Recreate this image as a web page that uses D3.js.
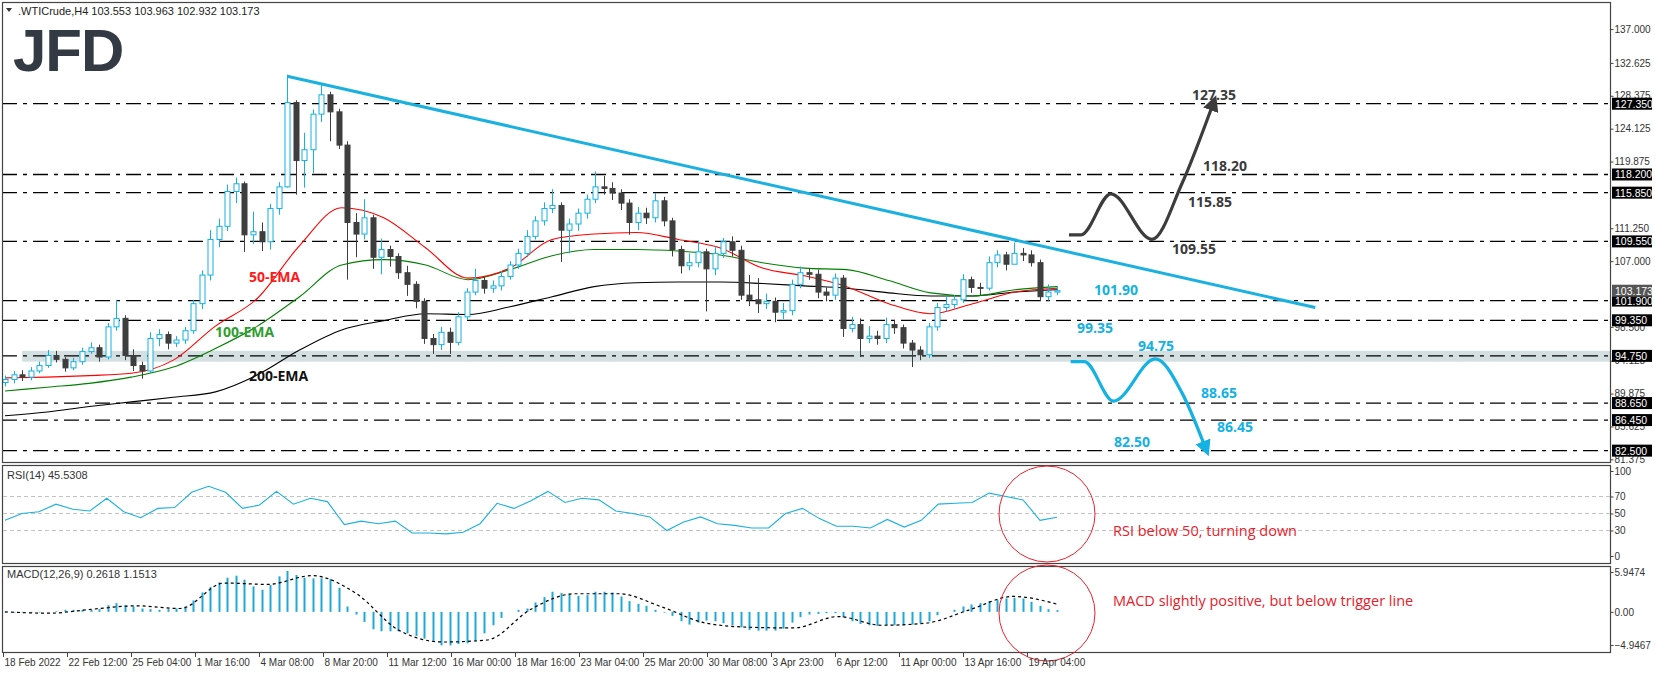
<!DOCTYPE html>
<html><head><meta charset="utf-8">
<script src="https://cdn.jsdelivr.net/npm/d3@7"></script>
<style>body{margin:0;background:#fff}svg{display:block}</style>
</head><body>
<svg id="c" width="1655" height="673"></svg>
<script>
// ---------- DATA ----------
const closes=[91.7,92.3,92.0,92.8,93.5,94.8,94.3,93.2,94.0,95.3,95.8,94.6,98.5,99.6,94.8,93.5,92.8,97.0,97.5,96.4,96.8,98.0,101.5,105.2,109.8,111.5,116.0,117.0,110.4,110.8,109.5,113.8,116.6,127.5,120.0,121.4,126.0,128.5,126.3,122.0,112.0,110.5,112.6,107.5,108.5,107.6,105.5,104.0,101.8,97.0,96.2,97.8,96.5,99.8,103.0,104.5,103.5,103.8,105.0,106.5,108.0,110.2,112.2,113.8,114.2,111.0,111.8,113.2,115.0,116.6,116.4,115.8,114.5,112.0,113.2,112.6,114.8,112.2,108.5,106.4,106.8,108.2,106.0,108.0,109.5,108.4,102.6,102.0,101.5,101.8,100.4,100.6,104.0,105.5,105.3,103.0,102.6,104.8,98.3,98.8,97.0,97.3,97.0,98.8,98.4,96.4,95.5,94.9,98.5,101.0,101.4,102.0,104.6,103.6,103.5,106.8,107.8,106.6,108.0,107.8,106.8,102.4,103.0,103.17];
const highs=[92.2,92.8,92.9,93.3,94.0,95.5,95.4,94.6,94.5,95.8,96.5,96.2,99.0,102.0,100.0,95.6,94.0,97.8,98.2,97.9,97.3,98.5,102.0,105.8,111.0,112.5,116.9,117.8,117.3,113.4,112.0,114.4,117.2,131.1,127.8,123.6,126.6,130.0,128.9,126.7,122.5,113.2,115.0,113.0,109.9,109.0,108.0,106.4,104.4,102.2,97.6,98.5,98.4,100.4,103.5,106.0,105.0,104.5,105.7,107.0,108.6,111.0,112.8,114.6,116.3,114.6,112.5,113.8,115.6,118.6,118.0,117.2,116.3,115.0,114.0,113.9,115.8,115.3,112.6,109.0,108.0,109.6,108.6,108.9,110.0,110.2,109.0,105.2,104.8,102.8,102.3,101.6,104.6,106.3,106.0,105.9,103.6,105.4,105.2,99.8,99.6,98.6,98.0,99.7,99.4,98.8,96.8,96.0,99.0,101.6,102.5,102.6,105.3,105.0,104.2,107.6,108.4,108.2,109.4,108.7,108.4,107.2,104.0,103.8];
const lows=[90.8,91.2,91.5,91.6,92.5,93.2,93.9,92.7,92.9,93.6,95.0,94.0,94.3,98.0,94.2,92.8,91.8,92.5,96.0,95.6,95.9,96.3,97.6,100.8,104.5,108.8,110.9,114.5,108.2,109.2,108.3,108.5,113.0,116.5,115.6,116.5,118.4,125.0,122.5,121.5,104.6,107.5,109.8,106.0,105.3,106.3,104.7,102.5,100.9,96.3,95.0,95.5,95.0,96.1,99.4,102.6,102.8,102.9,103.2,104.6,106.0,107.5,109.8,111.6,113.2,106.9,108.0,110.9,112.5,114.5,115.6,114.9,113.6,110.4,111.0,111.8,112.0,111.5,107.6,105.4,105.8,106.2,100.5,105.2,107.4,107.6,102.0,101.2,100.3,100.8,99.1,99.5,100.0,103.5,104.6,102.2,101.8,102.0,97.2,97.8,94.6,96.4,96.2,96.4,97.6,95.7,93.3,94.2,94.5,98.0,100.5,100.9,101.6,102.9,102.6,103.2,106.2,105.8,106.6,107.0,106.3,101.8,101.9,102.6];
const firstOpen=91.3;
const ema50=[91.9,92.0,92.2,92.5,94.2,98.6,102.2,109.0,113.9,112.6,108.7,104.8,106.1,109.8,110.5,110.7,109.8,108.7,106.1,105.1,103.7,101.5,100.2,101.5,103.0,103.5];
const ema100=[90.2,90.7,91.2,92.0,93.3,95.7,98.6,102.4,106.5,107.2,106.5,104.6,105.9,107.7,108.5,108.5,108.3,107.8,106.8,106.1,105.9,104.5,102.9,102.5,103.3,103.7];
const ema200=[87.0,87.5,88.2,88.8,89.4,90.1,92.3,95.5,98.1,99.3,100.2,100.1,101.1,102.4,103.7,104.2,104.3,104.3,104.1,103.8,103.5,102.9,102.5,102.5,103.0,103.3];
const rsi=[42,50,52,61,55,53,68,52,45,56,57,75,82,75,56,60,76,61,68,64,37,41,38,41,27,27,26,28,38,62,56,65,76,63,68,66,53,50,46,30,40,46,38,36,33,33,50,56,44,35,35,33,43,34,42,61,62,63,74,70,66,42,45.5];
const macdHist=[-0.1,-0.1,-0.1,-0.1,-0.1,0.0,0.1,0.3,0.3,0.3,0.3,0.4,1.0,1.3,1.0,0.8,0.5,0.4,0.3,0.4,0.5,0.8,1.7,2.9,3.7,4.4,5.1,5.4,4.8,3.8,3.3,4.0,5.3,6.1,5.5,5.1,5.0,5.0,4.9,3.6,0.8,-0.4,-1.5,-2.6,-2.9,-2.9,-2.9,-3.2,-3.6,-4.0,-4.4,-5.0,-5.0,-4.8,-4.7,-4.3,-3.2,-2.0,-0.9,0.0,0.3,0.5,1.4,2.2,3.0,2.8,2.6,2.4,2.5,3.0,3.0,2.9,2.3,1.6,1.2,0.9,0.3,-0.1,-0.6,-1.4,-1.9,-1.6,-1.3,-1.4,-1.7,-2.0,-2.3,-2.7,-2.8,-2.8,-2.8,-2.5,-1.6,-0.8,-0.4,-0.3,-0.2,-0.2,-0.8,-1.4,-1.8,-2.0,-2.1,-2.0,-2.0,-2.0,-1.9,-1.7,-1.4,-0.5,0.0,0.3,0.8,1.1,1.3,1.6,1.8,2.0,2.1,2.0,1.5,0.9,0.4,0.26];
const macdSignal=[0.0,-0.2,0.4,0.9,0.5,4.3,4.1,5.4,2.8,-2.8,-4.5,-4.2,0.4,2.7,2.7,0.7,-1.7,-2.3,-2.4,-0.7,-2.0,-1.7,0.3,2.3,1.15];
const levels=[127.35,118.20,115.85,109.55,101.90,99.35,94.75,88.65,86.45,82.50];
const priceTicks=[137.000,132.625,128.375,124.125,119.875,111.250,107.000,98.500,94.125,89.875,85.625,81.375];
const rsiTicks=[100,70,50,30,0];
const rsiLevels=[70,50,30];
const macdTicks=[5.9474,0,-4.9467];
const dateLabels=["18 Feb 2022","22 Feb 12:00","25 Feb 04:00","1 Mar 16:00","4 Mar 08:00","8 Mar 20:00","11 Mar 12:00","16 Mar 00:00","18 Mar 16:00","23 Mar 04:00","25 Mar 20:00","30 Mar 08:00","3 Apr 23:00","6 Apr 12:00","11 Apr 00:00","13 Apr 16:00","19 Apr 04:00"];
const trendline=[[33,130.9],[153.2,101.0]];
const zone=[94.0,95.4];
const bullPath=[[124.4,110.4],[125.8,110.4],[129.3,115.7],[134.1,109.8],[137.6,117.0],[141.1,126.9]];
const bearPath=[[124.6,94.0],[126.2,94.0],[129.6,88.9],[134.5,94.36],[137.6,90.0],[140.2,83.3]];
const blackNotes=[["127.35",1192,100],["118.20",1203,171],["115.85",1188,207],["109.55",1172,254]];
const blueNotes=[["101.90",1094,295],["99.35",1077,333],["94.75",1138,351],["88.65",1201,398],["86.45",1217,432],["82.50",1114,447]];

// ---------- SCALES ----------
const svg=d3.select("#c");
const N=closes.length;
const x=d3.scaleLinear().domain([0,N-1]).range([5,1057]);
const y=d3.scaleLinear().domain([81.03,140.5]).range([462,2]);
const yR=d3.scaleLinear().domain([0,100]).range([556,471]);
const yM=d3.scaleLinear().domain([-4.9467,5.9474]).range([645,572]);
const L=2,R=1610;
const CY="#14b1e3", DK="#3e3e3e";
const axisFont="'Liberation Sans',Arial,sans-serif";

svg.append("rect").attr("x",x(2)).attr("width",R-x(2)).attr("y",y(zone[1])).attr("height",y(zone[0])-y(zone[1])).attr("fill","#d3dfe1");
svg.selectAll(".lv").data(levels).join("line").attr("x1",L).attr("x2",R).attr("y1",d=>y(d)).attr("y2",d=>y(d))
 .attr("stroke","#000").attr("stroke-width",1.3).attr("stroke-dasharray","15,6,4,6");

svg.append("text").attr("x",13).attr("y",71).attr("font-family","'Liberation Sans',Arial").attr("font-weight","bold").attr("font-size",60).attr("letter-spacing",-1).attr("fill","#333a44").text("JFD");
svg.append("path").attr("d","M6,8 L12,8 L9,12 Z").attr("fill","#333");
svg.append("text").attr("x",18).attr("y",15).attr("font-family",axisFont).attr("font-size",11).attr("fill","#222").text(".WTICrude,H4  103.553 103.963 102.932 103.173");

const ex=d3.scaleLinear().domain([0,ema50.length-1]).range([0,N-1]);
const emaLine=d3.line().x((d,i)=>x(ex(i))).y(d=>y(d)).curve(d3.curveMonotoneX);
[[ema200,"#000"],[ema100,"#008000"],[ema50,"#ff0000"]].forEach(([a,c])=>svg.append("path").attr("d",emaLine(a)).attr("fill","none").attr("stroke",c).attr("stroke-width",1.1));

const cd=closes.map((c,i)=>({o:i?closes[i-1]:firstOpen,c,h:highs[i],l:lows[i],i}));
const g=svg.append("g");
cd.forEach(d=>{
  const up=d.c>=d.o, col=up?CY:DK, cx=Math.round(x(d.i))+0.5;
  g.append("line").attr("x1",cx).attr("x2",cx).attr("y1",y(d.h)).attr("y2",y(d.l)).attr("stroke",col).attr("stroke-width",1);
  const t=y(Math.max(d.o,d.c)), b=y(Math.min(d.o,d.c));
  g.append("rect").attr("x",cx-2.5).attr("width",5).attr("y",t).attr("height",Math.max(1,b-t))
   .attr("fill",up?"#fff":DK).attr("stroke",col).attr("stroke-width",1);
});

svg.append("path").attr("d",d3.line().x(d=>x(d[0])).y(d=>y(d[1]))(trendline)).attr("stroke","#1ab0e0").attr("stroke-width",3).attr("fill","none");

const bf="'Open Sans',Arial,sans-serif";
[["50-EMA",249,282,"#ff1a1a"],["100-EMA",215,337,"#2f9e2f"],["200-EMA",249,381,"#111"]].forEach(([t,xx,yy,c])=>
 svg.append("text").attr("x",xx).attr("y",yy).attr("font-family",bf).attr("font-weight","bold").attr("font-size",14).attr("fill",c).text(t));

const defs=svg.append("defs");
[["ab","#3c3c3c"],["ac","#14b1e3"]].forEach(([id,c])=>defs.append("marker").attr("id",id).attr("viewBox","0 0 10 10").attr("refX",2).attr("refY",5)
 .attr("markerWidth",5).attr("markerHeight",5).attr("orient","auto").append("path").attr("d","M0,0 L10,5 L0,10 Z").attr("fill",c));
const pl=d3.line().x(d=>x(d[0])).y(d=>y(d[1])).curve(d3.curveMonotoneX);
svg.append("path").attr("d",pl(bullPath)).attr("fill","none").attr("stroke","#3c3c3c").attr("stroke-width",3.2).attr("marker-end","url(#ab)");
svg.append("path").attr("d",pl(bearPath)).attr("fill","none").attr("stroke","#14b1e3").attr("stroke-width",3.2).attr("marker-end","url(#ac)");
blackNotes.forEach(([t,xx,yy])=>svg.append("text").attr("x",xx).attr("y",yy).attr("font-family",bf).attr("font-weight","bold").attr("font-size",14).attr("fill","#3a3a3a").text(t));
blueNotes.forEach(([t,xx,yy])=>svg.append("text").attr("x",xx).attr("y",yy).attr("font-family",bf).attr("font-weight","bold").attr("font-size",14).attr("fill","#14b1e3").text(t));

[[2,462],[465,563],[566,652]].forEach(([t,b])=>svg.append("rect").attr("x",L+0.5).attr("y",t+0.5).attr("width",R-L).attr("height",b-t).attr("fill","none").attr("stroke","#444").attr("stroke-width",1.2));

function rAxis(scale,vals,fmt){
  const a=svg.append("g").attr("transform",`translate(${R+0.5},0)`).call(d3.axisRight(scale).tickValues(vals).tickFormat(fmt).tickSize(3));
  a.select(".domain").remove();
  a.selectAll("text").attr("font-family",axisFont).attr("font-size",10).attr("fill","#333").attr("x",4);
  a.selectAll("line").attr("stroke","#444");
}
rAxis(y,priceTicks,d3.format(".3f"));
rAxis(yR,rsiTicks,d3.format("d"));
rAxis(yM,macdTicks,d=>d===0?"0.00":d3.format(".4f")(d));

function box(v,txt,fill){
  svg.append("rect").attr("x",R+2).attr("y",y(v)-6).attr("width",40).attr("height",12).attr("fill",fill);
  svg.append("text").attr("x",R+5).attr("y",y(v)+4).attr("font-family",axisFont).attr("font-size",10.5).attr("fill","#fff").text(txt);
}
levels.forEach(v=>box(v,d3.format(".3f")(v),"#000"));
box(closes[N-1]+0.003,"103.173","#555");

svg.selectAll(".rl").data(rsiLevels).join("line").attr("x1",L+1).attr("x2",R).attr("y1",d=>yR(d)).attr("y2",d=>yR(d)).attr("stroke","#c3c3c3").attr("stroke-dasharray","4,3");
const rx=d3.scaleLinear().domain([0,rsi.length-1]).range([0,N-1]);
svg.append("path").attr("d",d3.line().x((d,i)=>x(rx(i))).y(d=>yR(d))(rsi)).attr("fill","none").attr("stroke","#1ab0e0").attr("stroke-width",1.1);
svg.append("text").attr("x",7).attr("y",479).attr("font-family",axisFont).attr("font-size",11).attr("fill","#333").text("RSI(14) 45.5308");

svg.selectAll(".mh").data(macdHist).join("line").attr("x1",(d,i)=>Math.round(x(i))+0.5).attr("x2",(d,i)=>Math.round(x(i))+0.5)
 .attr("y1",yM(0)).attr("y2",d=>yM(d)).attr("stroke","#1ea8d6").attr("stroke-width",2);
const sx=d3.scaleLinear().domain([0,macdSignal.length-1]).range([0,N-1]);
svg.append("path").attr("d",d3.line().x((d,i)=>x(sx(i))).y(d=>yM(d)).curve(d3.curveMonotoneX)(macdSignal)).attr("fill","none").attr("stroke","#000").attr("stroke-width",1.2).attr("stroke-dasharray","3,3");
svg.append("text").attr("x",7).attr("y",578).attr("font-family",axisFont).attr("font-size",11).attr("fill","#333").text("MACD(12,26,9) 0.2618 1.1513");

[514,613].forEach(cy=>svg.append("circle").attr("cx",1047).attr("cy",cy).attr("r",48).attr("fill","none").attr("stroke","#e8202a").attr("stroke-width",1));
svg.append("text").attr("x",1113).attr("y",536).attr("font-family",bf).attr("font-size",14.5).attr("fill","#e8202a").text("RSI below 50, turning down");
svg.append("text").attr("x",1113).attr("y",606).attr("font-family",bf).attr("font-size",14.5).attr("fill","#e8202a").text("MACD slightly positive, but below trigger line");

const step=64/(x(1)-x(0));
dateLabels.forEach((t,k)=>{
  const px=Math.round(x(k*step-0.23))+0.5;
  svg.append("line").attr("x1",px).attr("x2",px).attr("y1",652).attr("y2",657).attr("stroke","#444");
  svg.append("text").attr("x",px+1).attr("y",666).attr("font-family",axisFont).attr("font-size",10).attr("fill","#333").text(t);
});
</script></body></html>
